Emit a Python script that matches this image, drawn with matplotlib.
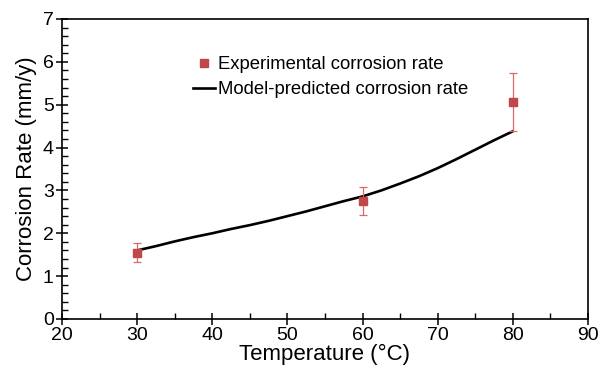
import matplotlib
matplotlib.use("Agg")
import matplotlib.pyplot as plt
from matplotlib.ticker import MultipleLocator
from matplotlib.lines import Line2D

plt.rcParams['font.family'] = ['Liberation Sans', 'DejaVu Sans']

exp_temp = [30, 60, 80]
exp_rate = [1.55, 2.75, 5.07]
exp_err = [0.23, 0.32, 0.68]

model_temp = [30, 32.5, 35, 37.5, 40, 42.5, 45, 47.5, 50, 52.5, 55, 57.5, 60,
              62.5, 65, 67.5, 70, 72.5, 75, 77.5, 80]
model_rate = [1.60, 1.70, 1.81, 1.91, 2.00, 2.10, 2.19, 2.29, 2.40, 2.51, 2.63, 2.75, 2.86,
              3.00, 3.16, 3.33, 3.52, 3.73, 3.95, 4.17, 4.38]

red = '#C0474A'

fig = plt.figure(figsize=(6.04, 3.72), dpi=100)
ax = fig.add_axes([0.1026, 0.1425, 0.8709, 0.8065])

ax.plot(model_temp, model_rate, color='black', lw=1.9, zorder=2)
ax.errorbar(exp_temp, exp_rate, yerr=exp_err, fmt='s', color=red, ms=6,
            ecolor='#D9686A', elinewidth=0.9, capsize=3, capthick=0.9, zorder=3)

ax.set_xlim(20, 90)
ax.set_ylim(0, 7)
ax.xaxis.set_major_locator(MultipleLocator(10))
ax.xaxis.set_minor_locator(MultipleLocator(5))
ax.yaxis.set_major_locator(MultipleLocator(1))
ax.yaxis.set_minor_locator(MultipleLocator(0.2))
ax.tick_params(which='major', direction='inout', length=8, width=1.1, labelsize=14, pad=2)
ax.tick_params(which='minor', direction='in', length=4, width=1.0)
ax.tick_params(top=False, right=False, which='both')
for s in ax.spines.values():
    s.set_linewidth(1.2)

ax.set_xlabel('Temperature (\u00b0C)', fontsize=16, labelpad=0)
ax.set_ylabel('Corrosion Rate (mm/y)', fontsize=16, labelpad=4)

handles = [Line2D([], [], marker='s', ls='none', color=red, ms=6),
           Line2D([], [], color='black', lw=1.9)]
labels = ['Experimental corrosion rate', 'Model-predicted corrosion rate']
ax.legend(handles, labels, loc='upper left', bbox_to_anchor=(0.249, 0.875),
          frameon=False, fontsize=13.3, handlelength=1.2, handletextpad=0.15,
          labelspacing=0.42, borderaxespad=0, borderpad=0)

fig.savefig('out.png', dpi=100)
